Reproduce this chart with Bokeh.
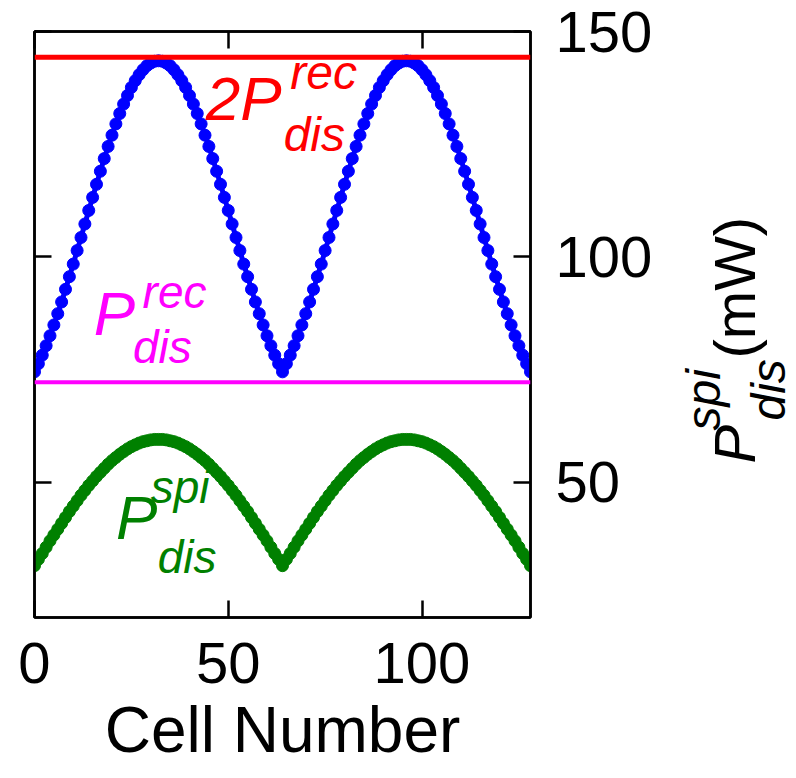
import math
from bokeh.plotting import figure
from bokeh.layouts import row
from bokeh.models import Label, LinearAxis, FixedTicker, Span
from bokeh.core.properties import value
from bokeh.embed import file_html
from bokeh.resources import INLINE

# ---------------- data ----------------
cells = list(range(0, 129))

P_rec = 72.2
P_rec2 = 144.3

P_total = [74.5, 76.3, 78.2, 80.3, 82.5, 84.9, 87.4, 90.0, 92.8, 95.6, 98.4, 101.4, 104.3, 107.3, 110.3, 113.2,
           116.1, 119.0, 121.8, 124.5, 127.0, 129.5, 131.8, 133.9, 135.8, 137.6, 139.1, 140.4, 141.5, 142.4, 143.0,
           143.4, 143.5,
           143.4, 143.0, 142.4, 141.5, 140.4, 139.1, 137.6, 135.8, 133.9, 131.8, 129.5, 127.0, 124.5, 121.8, 119.0,
           116.1, 113.2, 110.3, 107.3, 104.3, 101.4, 98.4, 95.6, 92.8, 90.0, 87.4, 84.9, 82.5, 80.3, 78.2, 76.3, 74.5,
           76.3, 78.2, 80.3, 82.5, 84.9, 87.4, 90.0, 92.8, 95.6, 98.4, 101.4, 104.3, 107.3, 110.3, 113.2, 116.1,
           119.0, 121.8, 124.5, 127.0, 129.5, 131.8, 133.9, 135.8, 137.6, 139.1, 140.4, 141.5, 142.4, 143.0, 143.4,
           143.5,
           143.4, 143.0, 142.4, 141.5, 140.4, 139.1, 137.6, 135.8, 133.9, 131.8, 129.5, 127.0, 124.5, 121.8, 119.0,
           116.1, 113.2, 110.3, 107.3, 104.3, 101.4, 98.4, 95.6, 92.8, 90.0, 87.4, 84.9, 82.5, 80.3, 78.2, 76.3, 74.5]

P_spi = [31.5, 32.9, 34.2, 35.6, 37.0, 38.3, 39.6, 40.9, 42.2, 43.5, 44.7, 45.9, 47.1, 48.2, 49.3, 50.3,
         51.3, 52.2, 53.1, 54.0, 54.8, 55.5, 56.2, 56.8, 57.4, 57.9, 58.3, 58.7, 59.0, 59.2, 59.4, 59.5, 59.5,
         59.5, 59.4, 59.2, 59.0, 58.7, 58.3, 57.9, 57.4, 56.8, 56.2, 55.5, 54.8, 54.0, 53.1, 52.2, 51.3,
         50.3, 49.3, 48.2, 47.1, 45.9, 44.7, 43.5, 42.2, 40.9, 39.6, 38.3, 37.0, 35.6, 34.2, 32.9, 31.5,
         32.9, 34.2, 35.6, 37.0, 38.3, 39.6, 40.9, 42.2, 43.5, 44.7, 45.9, 47.1, 48.2, 49.3, 50.3,
         51.3, 52.2, 53.1, 54.0, 54.8, 55.5, 56.2, 56.8, 57.4, 57.9, 58.3, 58.7, 59.0, 59.2, 59.4, 59.5, 59.5,
         59.5, 59.4, 59.2, 59.0, 58.7, 58.3, 57.9, 57.4, 56.8, 56.2, 55.5, 54.8, 54.0, 53.1, 52.2, 51.3,
         50.3, 49.3, 48.2, 47.1, 45.9, 44.7, 43.5, 42.2, 40.9, 39.6, 38.3, 37.0, 35.6, 34.2, 32.9, 31.5]

x_ticks = [0, 50, 100]
y_ticks = [50, 100, 150]

FONT = "Liberation Sans"
TOTAL_H = 772
TOP, BOTTOM, FRAME_H = 31, 155, 586

p = figure(frame_width=496, frame_height=FRAME_H, x_range=(0, 128), y_range=(20, 150),
           y_axis_location="right", output_backend="svg", toolbar_location=None,
           min_border_left=34, min_border_top=TOP, min_border_right=140, min_border_bottom=BOTTOM,
           background_fill_color="white", border_fill_color="white")
p.grid.visible = False
p.outline_line_color = "black"
p.outline_line_width = 2.5

p.add_layout(LinearAxis(), "left")
p.add_layout(LinearAxis(), "above")


def style_axis(ax, ticks, labels=True):
    ax.ticker = FixedTicker(ticks=ticks)
    ax.major_tick_in = 17
    ax.major_tick_out = 0
    ax.minor_tick_line_color = None
    ax.major_tick_line_width = 2.5
    ax.major_tick_line_color = "black"
    ax.axis_line_width = 2.5
    ax.axis_line_color = "black"
    ax.major_label_text_font = FONT
    ax.major_label_text_color = "black"
    if labels:
        ax.major_label_text_font_size = "58px"
        ax.major_label_standoff = 25
    else:
        ax.major_label_text_font_size = "1px"
        ax.major_label_text_alpha = 0
        ax.major_label_standoff = 0


for ax in p.below:
    style_axis(ax, x_ticks, True)
    ax.axis_label = "Cell Number"
    ax.axis_label_text_font = FONT
    ax.axis_label_text_font_style = "normal"
    ax.axis_label_text_font_size = "64px"
    ax.axis_label_text_color = "black"
    ax.axis_label_standoff = 8
for ax in p.above:
    style_axis(ax, x_ticks, False)
for ax in p.right:
    style_axis(ax, y_ticks, True)
for ax in p.left:
    style_axis(ax, y_ticks, False)

# reference lines
p.add_layout(Span(location=P_rec2, dimension="width", line_color="#ff0000", line_width=5))
p.add_layout(Span(location=P_rec, dimension="width", line_color="#ff00ff", line_width=4))

# series
p.line(cells, P_spi, line_color="#008000", line_width=7)
p.scatter(cells, P_spi, size=12, fill_color="#008000", line_color="#008000", marker="circle")
p.line(cells, P_total, line_color="#0000ff", line_width=5)
p.scatter(cells, P_total, size=12, fill_color="#0000ff", line_color="#0000ff", marker="circle")


def lab(x, y, text, size, color, italic=True):
    p.add_layout(Label(x=x, y=y, text=text, text_font=FONT,
                       text_font_style="italic" if italic else "normal",
                       text_font_size=f"{size}px", text_color=color,
                       text_baseline="alphabetic", text_align="left"))


# 2 P^rec_dis (red)
lab(44.2, 135.2, "2P", 62, "#ff0000")
lab(66.0, 141.0, "rec", 48, "#ff0000")
lab(64.3, 127.1, "dis", 48, "#ff0000")
# P^rec_dis (magenta)
lab(15.3, 87.4, "P", 62, "#ff00ff")
lab(27.9, 92.2, "rec", 46, "#ff00ff")
lab(25.4, 80.0, "dis", 46, "#ff00ff")
# P^spi_dis (green)
lab(21.0, 42.1, "P", 62, "#008000")
lab(30.0, 48.9, "spi", 46, "#008000")
lab(31.8, 33.4, "dis", 46, "#008000")

# ---------------- right-hand axis title panel ----------------
# coordinates of this panel are page pixels: x from its left edge, y = TOTAL_H - row
W2 = 122
p2 = figure(frame_width=W2, frame_height=FRAME_H, x_range=(0, W2),
            y_range=(BOTTOM, TOTAL_H - TOP),
            output_backend="svg", toolbar_location=None,
            min_border_left=0, min_border_right=0, min_border_top=TOP, min_border_bottom=BOTTOM,
            background_fill_color="white", border_fill_color="white")
p2.axis.visible = False
p2.grid.visible = False
p2.outline_line_color = None

ang = math.pi / 2


def tlab(x, y, text, size, italic=True):
    p2.text(x=[x], y=[y], text=[text], angle=ang, text_font=value(FONT),
            text_font_style="italic" if italic else "normal",
            text_font_size=f"{size}px", text_color="black",
            text_baseline="alphabetic", text_align="left")


tlab(64, 309, "P", 58)
tlab(33, 342, "spi", 48)
tlab(98, 352, "dis", 48)
tlab(64, 414, "(mW)", 58, italic=False)

open("out.html", "w").write(file_html(row(p, p2), INLINE))
